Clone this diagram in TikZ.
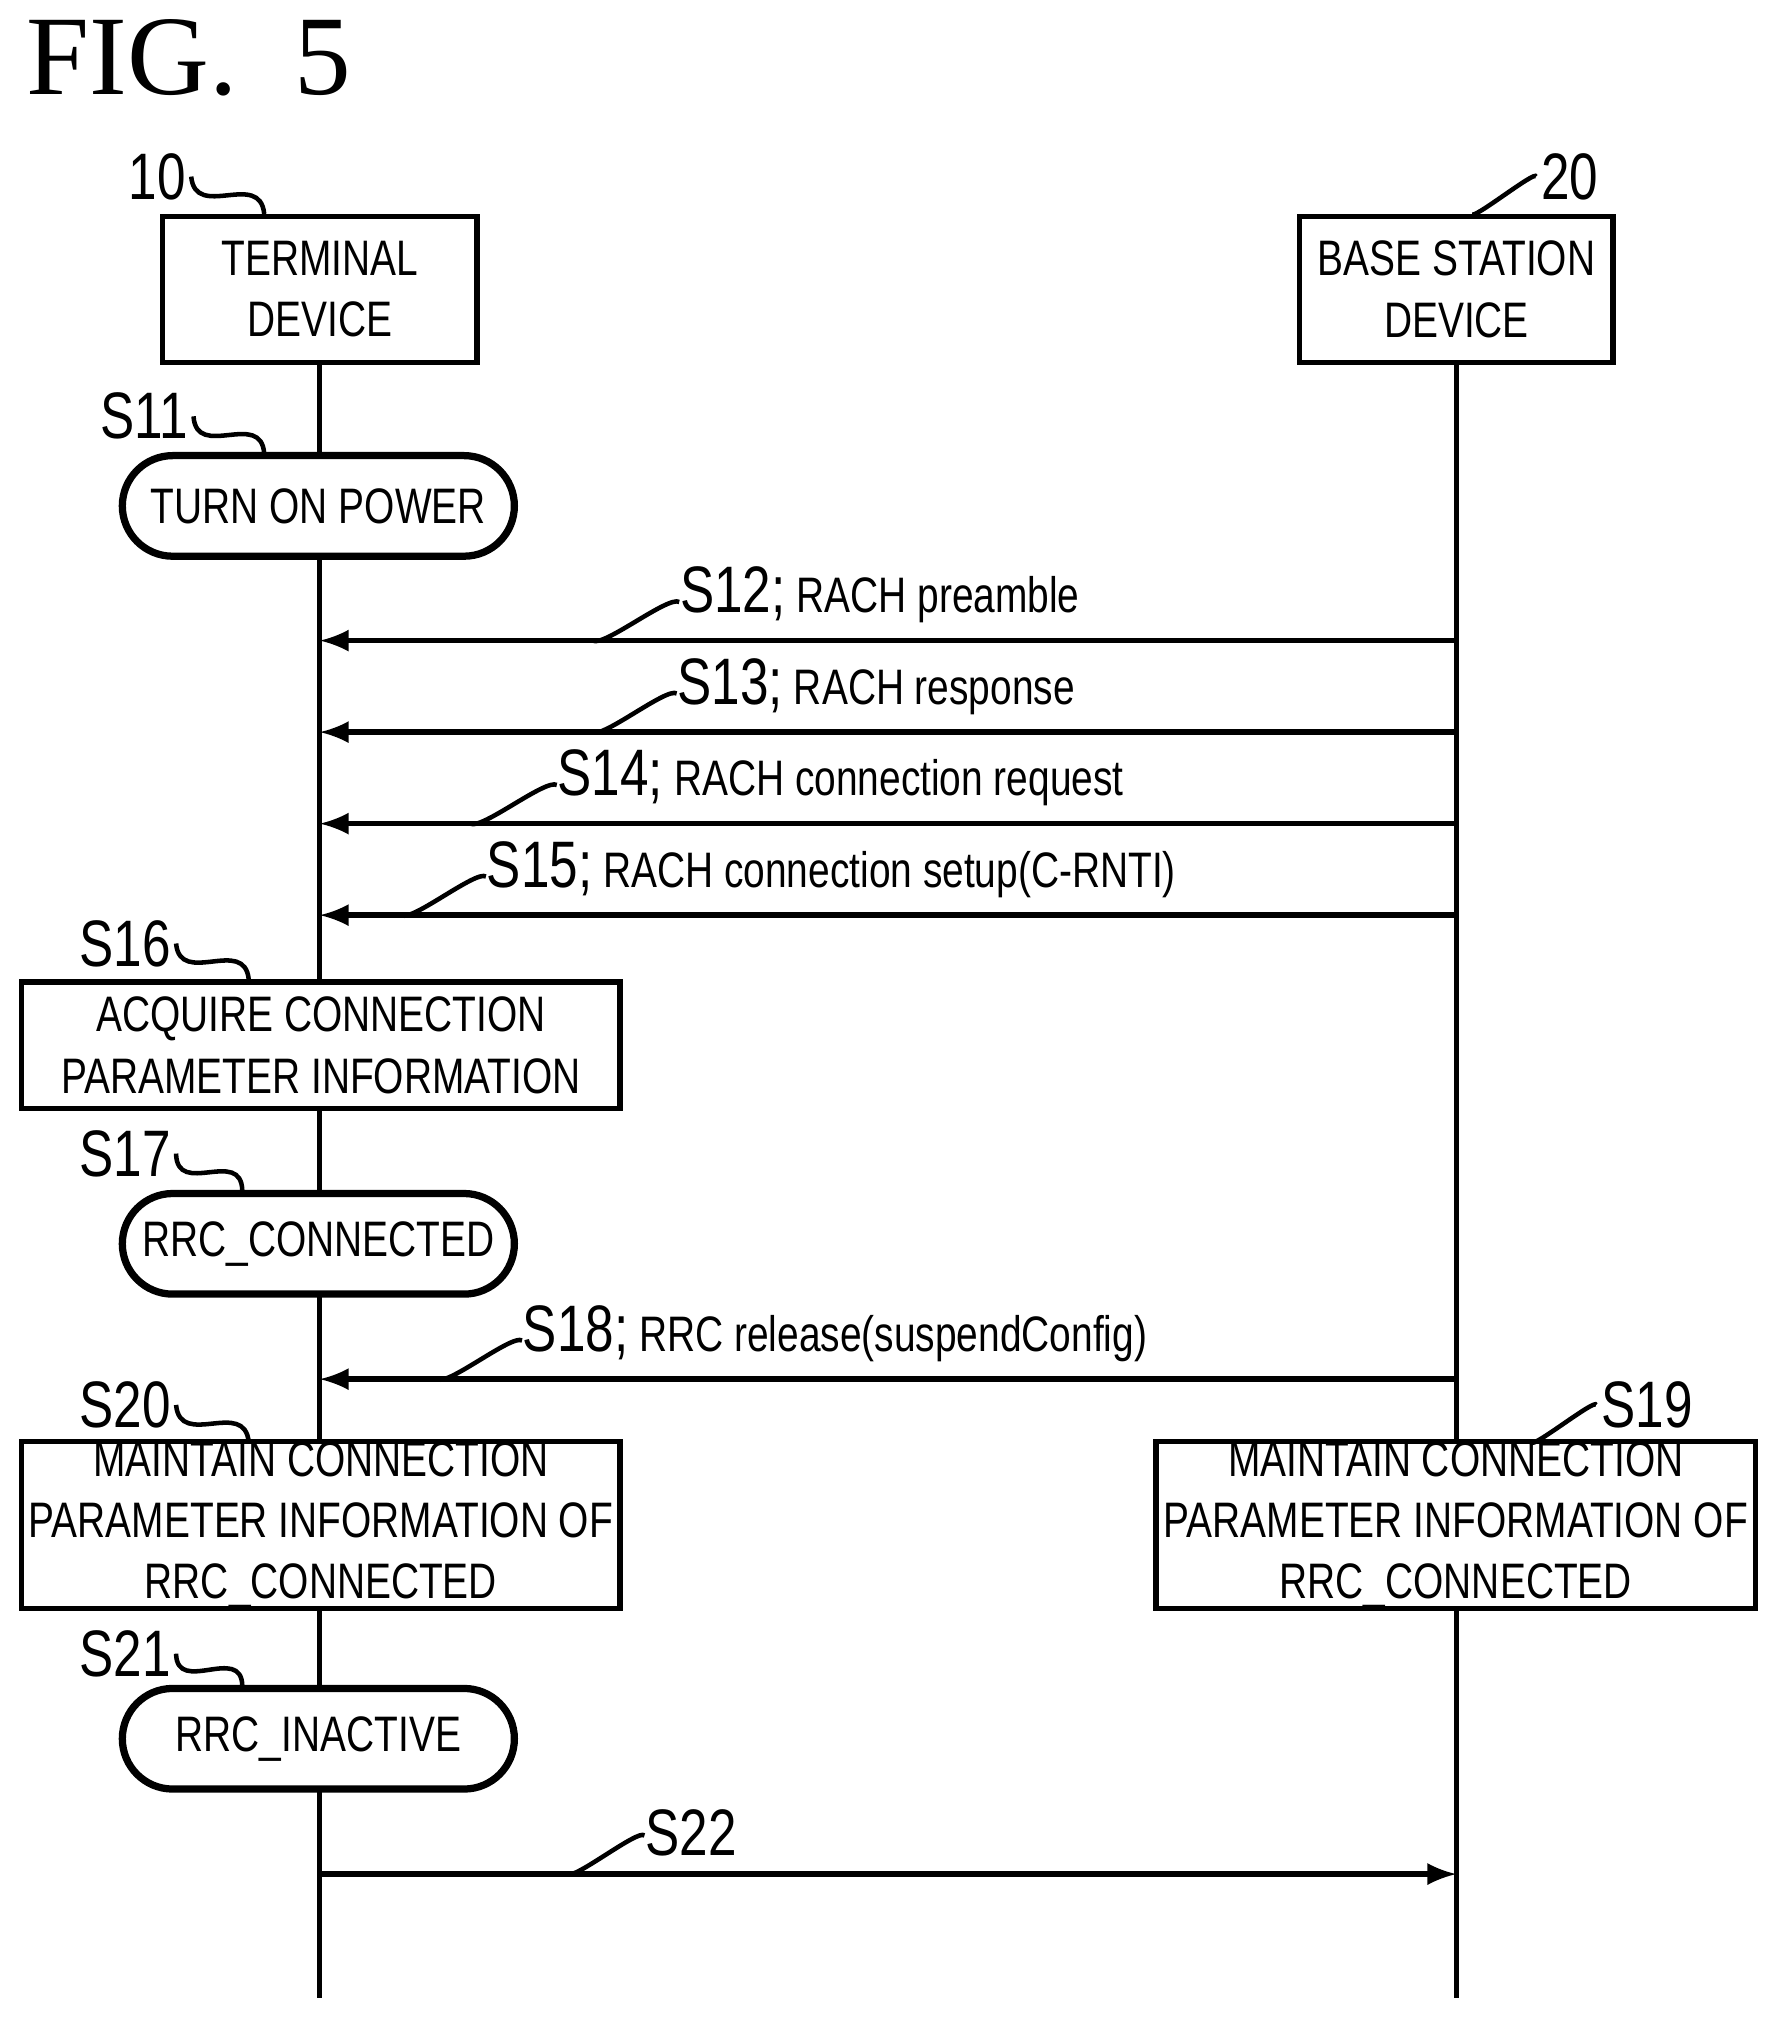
\documentclass[tikz,border=0pt]{standalone}
\usepackage{fontspec}
\setmainfont[FakeStretch=0.78]{Liberation Sans}
\newfontfamily\figfont{Liberation Serif}
\usetikzlibrary{positioning,calc}
\tikzset{
  box/.style={draw,line width=1.2pt,align=center,inner sep=0pt,font=\fontsize{11}{13.5}\selectfont},
  state/.style={draw,line width=1.6pt,rounded corners=0.39cm,align=center,inner sep=0pt,minimum width=3.04cm,minimum height=0.78cm,font=\fontsize{11}{13}\selectfont},
  life/.style={line width=1.2pt},
  msg/.style={line width=1.2pt,-latex},
  lead/.style={line width=1pt},
  steplbl/.style={font=\fontsize{14.5}{16}\selectfont,inner sep=1pt}
}
\newcommand{\squig}[2]{\draw[lead] (#1) .. controls ($(#1)!0.5!(#2)+(-25,20)$) and ($(#1)!0.5!(#2)+(25,-20)$) .. (#2);}
\begin{document}
\begin{tikzpicture}[x=0.01cm,y=-0.01cm]
\useasboundingbox (0,0) rectangle (1380,1568);
\node[font=\figfont\fontsize{25}{28}\selectfont,anchor=west,inner sep=0pt] (fig) at (20,45) {FIG.\ \ 5};

% devices
\node[box,minimum width=2.44cm,minimum height=1.13cm] (term) at (248,224.5) {TERMINAL\\DEVICE};
\node[box,minimum width=2.43cm,minimum height=1.13cm] (base) at (1130,224.5) {BASE STATION\\DEVICE};
\node[steplbl] (n10) at (122,137) {10};
\node[steplbl] (n20) at (1218,137) {20};
\squig{n10.east}{205,166}
\squig{1142,166}{n20.west}

% lifelines
\coordinate (tend) at (248,1550);
\coordinate (bend) at (1130,1550);
\draw[life] (term.south) -- (tend);
\draw[life] (base.south) -- (bend);

% terminal states
\node[state,fill=white] (s11) at (247,392.5) {TURN ON POWER};
\node[steplbl] (l11) at (112,323) {S11};
\squig{l11.east}{205,352}

% messages
\foreach \y/\dir/\sx/\lx/\sn/\lab [count=\i from 12] in
  {497/r/460/527/S12/{RACH preamble},
   568/l/460/525/S13/{RACH response},
   639/r/365/432/S14/{RACH connection request},
   710/l/312/377/S15/{RACH connection setup(C-RNTI)}}{
  \coordinate (t\i) at (248,\y);
  \coordinate (b\i) at (1130,\y);
  \ifx\dir r\draw[msg] (t\i) -- (b\i);\else\draw[msg] (b\i) -- (t\i);\fi
  \coordinate (q\i) at (\sx,\y);
  \node[anchor=south west,inner sep=0pt] (m\i) at (\lx,\y-13) {\fontsize{14.5}{16}\selectfont\sn;\,\fontsize{11}{13}\selectfont\lab};
  \squig{q\i}{\lx,\y-30}
}

\node[box,minimum width=4.64cm,minimum height=0.98cm,fill=white] (s16) at (249,811) {ACQUIRE CONNECTION\\PARAMETER INFORMATION};
\node[steplbl] (l16) at (97,732) {S16};
\squig{l16.east}{193,760}

\node[state,fill=white] (s17) at (247,965) {RRC\_CONNECTED};
\node[steplbl] (l17) at (97,895) {S17};
\squig{l17.east}{188,924}

\coordinate (t18) at (248,1070);
\coordinate (b18) at (1130,1070);
\draw[msg] (b18) -- (t18);
\coordinate (q18) at (340,1070);
\node[anchor=south west,inner sep=0pt] (m18) at (405,1057) {\fontsize{14.5}{16}\selectfont S18;\,\fontsize{11}{13}\selectfont RRC release(suspendConfig)};
\squig{q18}{405,1040}

\node[box,minimum width=4.64cm,minimum height=1.24cm,fill=white] (s20) at (249,1183) {MAINTAIN CONNECTION\\PARAMETER INFORMATION OF\\RRC\_CONNECTED};
\node[steplbl] (l20) at (97,1090) {S20};
\squig{l20.east}{193,1119}
\node[box,minimum width=4.65cm,minimum height=1.24cm,fill=white] (s19) at (1129.5,1183) {MAINTAIN CONNECTION\\PARAMETER INFORMATION OF\\RRC\_CONNECTED};
\node[steplbl] (l19) at (1278,1090) {S19};
\squig{1188,1119}{l19.west}

\node[state,fill=white] (s21) at (247,1349) {RRC\_INACTIVE};
\node[steplbl] (l21) at (97,1283) {S21};
\squig{l21.east}{188,1308}

\coordinate (t22) at (248,1454);
\coordinate (b22) at (1130,1454);
\draw[msg] (t22) -- (b22);
\coordinate (q22) at (440,1454);
\node[steplbl,anchor=south west,inner sep=0pt] (m22) at (500,1441) {S22};
\squig{q22}{500,1424}
\end{tikzpicture}
\end{document}
